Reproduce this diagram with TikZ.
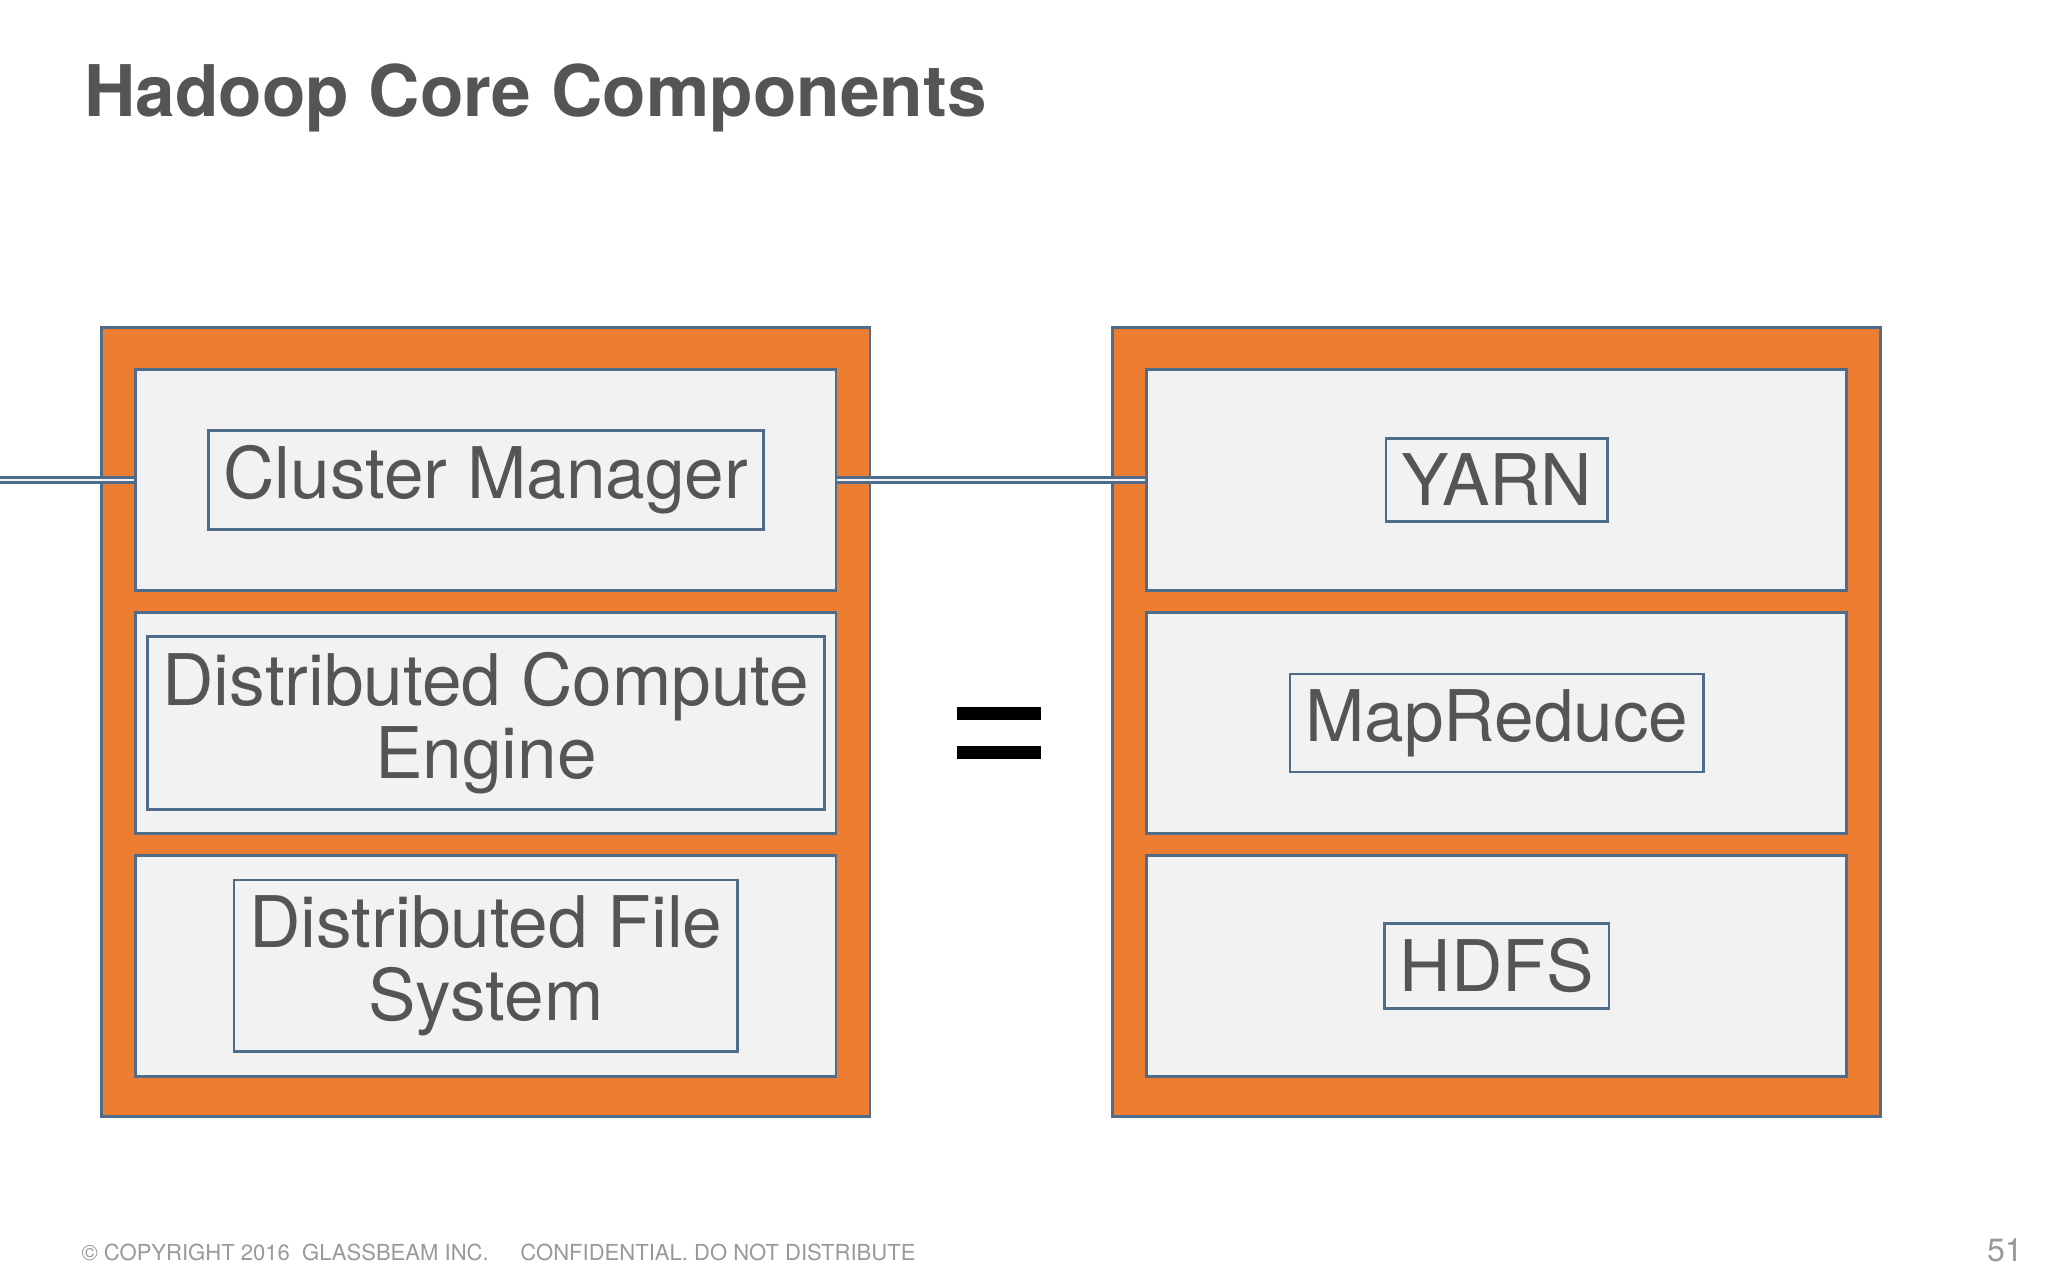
\documentclass[tikz,border=0pt]{standalone}
\usepackage{fontspec}
\setmainfont{TeX Gyre Heros}
\begin{document}
\begin{tikzpicture}[x=0.01cm,y=-0.01cm,
 outer/.style={fill=orangeA,draw=frameB,line width=0.6pt},
 inner/.style={fill=boxF,draw=frameB,line width=0.6pt,text=txt,align=center,font=\fontsize{15.5}{18}\selectfont},
 foot/.style={text=gray!80,font=\fontsize{4.8}{6}\selectfont,anchor=west}]
\definecolor{orangeA}{HTML}{ED7D31}
\definecolor{frameB}{HTML}{4F6D8A}
\definecolor{boxF}{HTML}{F2F2F2}
\definecolor{txt}{HTML}{555555}
\useasboundingbox[fill=white] (0,0) rectangle (1568,980);
\node[anchor=west,text=txt,font=\fontsize{15.5}{18}\selectfont\bfseries] (title) at (52,75) {Hadoop Core Components};
\filldraw[outer] (78,251) rectangle (666,855);
\filldraw[outer] (852,251) rectangle (1440,855);
\node[inner,minimum width=536\pgflinewidth,inner sep=0] (a) at (372,367.5) {};
\path[inner] (104,283) rectangle (640,452) node[midway,inner] (cm) {Cluster Manager};
\path[inner] (104,469) rectangle (640,638) node[midway,inner] (dce) {Distributed Compute\\[-2pt]Engine};
\path[inner] (104,655) rectangle (640,824) node[midway,inner] (dfs) {Distributed File\\[-2pt]System};
\path[inner] (878,283) rectangle (1414,452) node[midway,inner] (yarn) {YARN};
\path[inner] (878,469) rectangle (1414,638) node[midway,inner] (mr) {MapReduce};
\path[inner] (878,655) rectangle (1414,824) node[midway,inner] (hdfs) {HDFS};
\fill[black] (733,541) rectangle (797,551);
\fill[black] (733,571) rectangle (797,581);
\node[foot] (f1) at (50,959) {© COPYRIGHT 2016\ \ GLASSBEAM INC.};
\node[foot] (f2) at (386,959) {CONFIDENTIAL. DO NOT DISTRIBUTE};
\node[text=gray!80,font=\fontsize{7}{8}\selectfont] (pg) at (1535,957) {51};
\end{tikzpicture}
\end{document}
